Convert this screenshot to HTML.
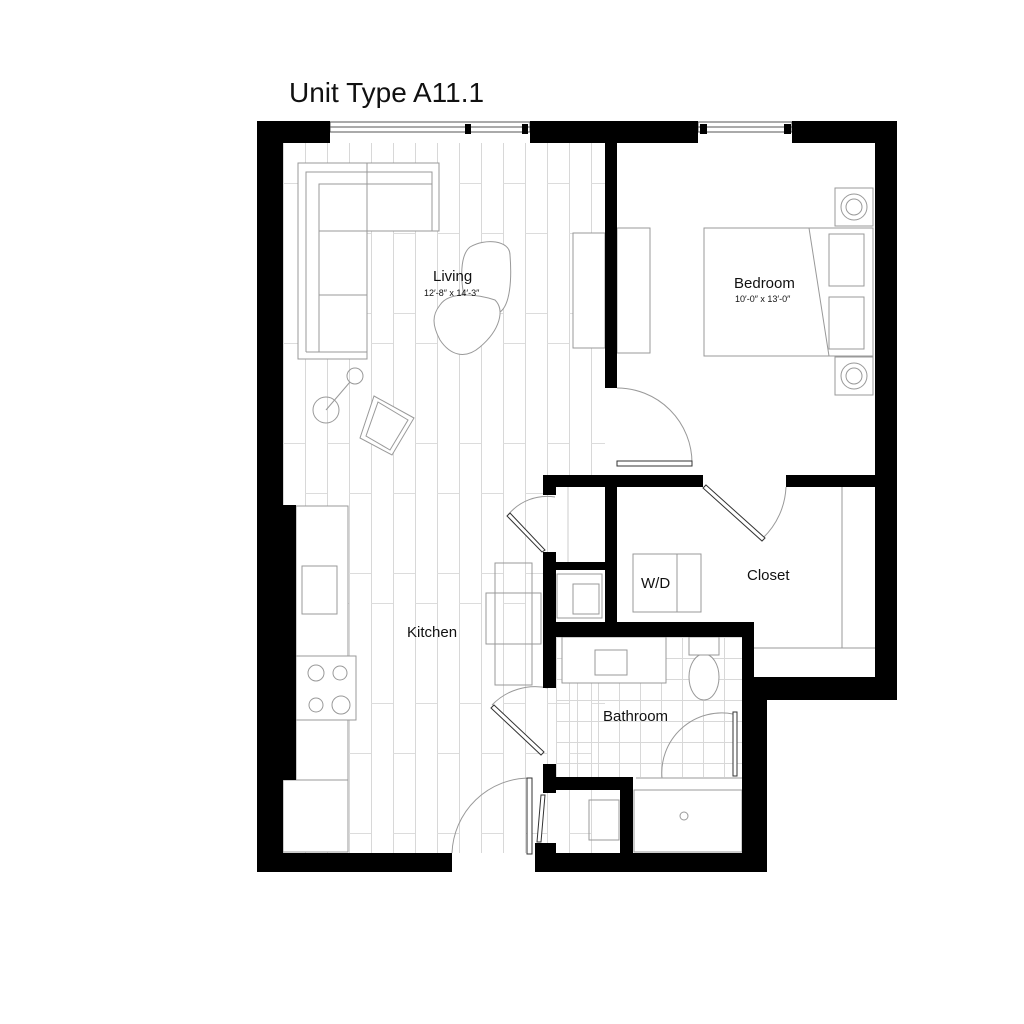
<!DOCTYPE html>
<html><head><style>
html,body{margin:0;padding:0;background:#fff;}
svg{display:block;}
text{font-family:"Liberation Sans",sans-serif;fill:#111;}
</style></head><body>
<svg width="1024" height="1024" viewBox="0 0 1024 1024" xmlns="http://www.w3.org/2000/svg">
<defs>
<pattern id="plank" x="283" y="143" width="44" height="260" patternUnits="userSpaceOnUse">
<line x1="0.5" y1="0" x2="0.5" y2="260" stroke="#d8d8d8" stroke-width="1"/>
<line x1="22.5" y1="0" x2="22.5" y2="260" stroke="#d8d8d8" stroke-width="1"/>
<line x1="0" y1="40.5" x2="22" y2="40.5" stroke="#dcdcdc"/>
<line x1="22" y1="170.5" x2="44" y2="170.5" stroke="#dcdcdc"/>
<line x1="0" y1="200.5" x2="22" y2="200.5" stroke="#dcdcdc"/>
<line x1="22" y1="90.5" x2="44" y2="90.5" stroke="#dcdcdc"/>
</pattern>
<pattern id="tile" x="556" y="637" width="21" height="21" patternUnits="userSpaceOnUse">
<path d="M0.5 0V21M0 0.5H21" stroke="#d8d8d8" fill="none"/>
</pattern>
</defs>
<text x="289" y="102" font-size="28">Unit Type A11.1</text>

<rect x="283" y="143" width="322" height="710" fill="url(#plank)"/>
<rect x="556" y="637" width="186" height="140" fill="url(#tile)"/>
<rect x="556" y="570" width="49" height="52" fill="#fff"/>
<rect x="556" y="487" width="49" height="75" fill="#fff"/>
<line x1="568" y1="487" x2="568" y2="562" stroke="#ccc"/>

<g fill="none" stroke="#999" stroke-width="1">
<path d="M298 163 H439 V231 H367 V359 H298Z" fill="#fff"/>
<path d="M306 352 V172 H432 V231"/>
<line x1="306" y1="352" x2="367" y2="352"/>
<rect x="319" y="184" width="113" height="47"/>
<line x1="367" y1="163" x2="367" y2="359"/>
<line x1="319" y1="231" x2="319" y2="352"/>
<line x1="319" y1="295" x2="367" y2="295"/>
<path d="M470 247 C485 238,510 240,510 255 C512 280,510 305,500 312 L465 300 C460 280,460 255,470 247Z" fill="#fff"/>
<path d="M440 305 C450 290,480 295,495 300 C505 310,500 330,480 347 C465 360,450 355,440 340 C432 325,432 315,440 305Z" fill="#fff"/>
<circle cx="355" cy="376" r="8"/><circle cx="326" cy="410" r="13"/>
<line x1="350" y1="382" x2="326" y2="410"/>
<path d="M374 396 L414 418 L392 455 L360 438Z" fill="#fff"/>
<path d="M378 402 L408 420 L390 450 L366 436Z"/>
<rect x="573" y="233" width="32" height="115" fill="#fff"/>
<rect x="617" y="228" width="33" height="125"/>
<rect x="704" y="228" width="169" height="128"/>
<line x1="809" y1="228" x2="829" y2="356"/>
<rect x="829" y="234" width="35" height="52"/><rect x="829" y="297" width="35" height="52"/>
<rect x="835" y="188" width="38" height="38"/><rect x="835" y="357" width="38" height="38"/>
<circle cx="854" cy="207" r="13"/><circle cx="854" cy="207" r="8"/>
<circle cx="854" cy="376" r="13"/><circle cx="854" cy="376" r="8"/>
<line x1="842" y1="487" x2="842" y2="648"/>
<line x1="754" y1="648" x2="875" y2="648"/>
<rect x="633" y="554" width="68" height="58"/><line x1="677" y1="554" x2="677" y2="612"/>
<rect x="557" y="574" width="45" height="44"/><rect x="573" y="584" width="26" height="30"/>
<rect x="296" y="506" width="52" height="274" fill="#fff"/>
<rect x="283" y="780" width="65" height="72" fill="#fff"/>
<rect x="302" y="566" width="35" height="48"/>
<rect x="296" y="656" width="60" height="64" fill="#fff"/>
<circle cx="316" cy="673" r="8"/><circle cx="340" cy="673" r="7"/>
<circle cx="316" cy="705" r="7"/><circle cx="341" cy="705" r="9"/>
<rect x="486" y="593" width="55" height="51"/>
<rect x="495" y="563" width="37" height="122"/>
<rect x="562" y="637" width="104" height="46" fill="#fff"/>
<rect x="595" y="650" width="32" height="25"/>
<ellipse cx="704" cy="677" rx="15" ry="23" fill="#fff"/>
<rect x="689" y="637" width="30" height="18" fill="#fff"/>
<rect x="634" y="790" width="108" height="62" fill="#fff"/>
<circle cx="684" cy="816" r="4"/>
<rect x="589" y="800" width="30" height="40"/>
<path d="M617 388 A75 75 0 0 1 692 463"/>
<path d="M786 487 A75 75 0 0 1 763 538"/>
<path d="M555 497 A50 50 0 0 0 508 515"/>
<path d="M548 688 A60 60 0 0 0 492 705"/>
<path d="M452 853 A78 78 0 0 1 530 778"/>
<path d="M733 714 A60 60 0 0 0 662 778"/>
<line x1="636" y1="778" x2="742" y2="778"/>
</g>
<g fill="#fff" stroke="#333" stroke-width="1">
<rect x="617" y="461" width="75" height="5"/>
<path d="M706 485 L765 538 L762 541 L703 488Z"/>
<path d="M510 513 L545 550 L542 552 L507 516Z"/>
<path d="M494 705 L544 752 L541 755 L491 708Z"/>
<rect x="527" y="778" width="5" height="76"/>
<path d="M545 795 L541 842 L537 842 L541 795Z"/>
<rect x="733" y="712" width="4" height="64"/>
</g>

<g fill="#fff" stroke="#555" stroke-width="1">
<rect x="330" y="122" width="200" height="10"/>
<line x1="330" y1="127" x2="530" y2="127"/>
<rect x="698" y="122" width="94" height="10"/>
<line x1="698" y1="127" x2="792" y2="127"/>
</g>
<g fill="#000">
<rect x="465" y="124" width="6" height="10"/><rect x="522" y="124" width="6" height="10"/>
<rect x="700" y="124" width="7" height="10"/><rect x="784" y="124" width="7" height="10"/>
<rect x="257" y="121" width="26" height="751"/>
<rect x="257" y="505" width="39" height="275"/>
<rect x="257" y="121" width="73" height="22"/>
<rect x="530" y="121" width="168" height="22"/>
<rect x="792" y="121" width="105" height="22"/>
<rect x="875" y="121" width="22" height="579"/>
<rect x="767" y="677" width="130" height="23"/>
<rect x="742" y="622" width="12" height="250"/>
<rect x="754" y="677" width="13" height="195"/>
<rect x="257" y="853" width="195" height="19"/>
<rect x="535" y="853" width="232" height="19"/>
<rect x="535" y="843" width="21" height="12"/>
<rect x="605" y="143" width="12" height="245"/>
<rect x="543" y="475" width="160" height="12"/>
<rect x="786" y="475" width="89" height="12"/>
<rect x="543" y="475" width="13" height="20"/>
<rect x="543" y="552" width="13" height="136"/>
<rect x="605" y="475" width="12" height="147"/>
<rect x="556" y="562" width="49" height="8"/>
<rect x="556" y="622" width="198" height="15"/>
<rect x="543" y="764" width="13" height="29"/>
<rect x="556" y="777" width="77" height="13"/>
<rect x="620" y="777" width="13" height="76"/>
</g>

<text x="433" y="281" font-size="15">Living</text>
<text x="424" y="296" font-size="9">12′-8″ x 14′-3″</text>
<text x="734" y="288" font-size="15">Bedroom</text>
<text x="735" y="302" font-size="9">10′-0″ x 13′-0″</text>
<text x="747" y="580" font-size="15">Closet</text>
<text x="641" y="588" font-size="15">W/D</text>
<text x="407" y="637" font-size="15">Kitchen</text>
<text x="603" y="721" font-size="15">Bathroom</text>
</svg>
</body></html>
